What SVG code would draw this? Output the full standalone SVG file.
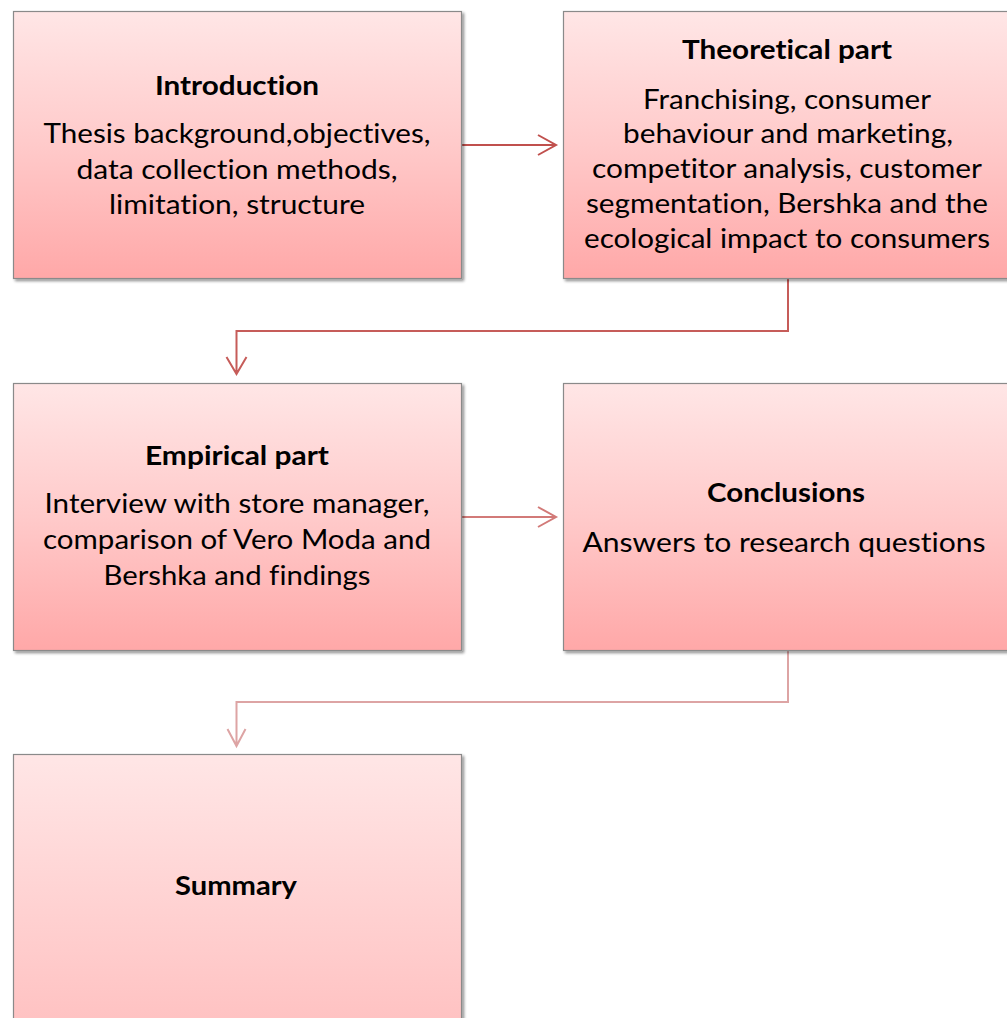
<svg xmlns="http://www.w3.org/2000/svg" width="1007" height="1018" viewBox="0 0 1007 1018">
<defs>
<linearGradient id="g" x1="0" y1="0" x2="0" y2="1">
<stop offset="0" stop-color="#FFE6E6"/>
<stop offset="0.5" stop-color="#FFCACA"/>
<stop offset="1" stop-color="#FFA8A8"/>
</linearGradient>
<linearGradient id="g2" x1="0" y1="0" x2="0" y2="1">
<stop offset="0" stop-color="#FFE6E6"/>
<stop offset="1" stop-color="#FFBEBE"/>
</linearGradient>
<filter id="sh" x="-5%" y="-5%" width="115%" height="115%">
<feGaussianBlur in="SourceAlpha" stdDeviation="1.5"/>
<feOffset dx="2" dy="2" result="b"/>
<feComponentTransfer><feFuncA type="linear" slope="0.45"/></feComponentTransfer>
<feMerge><feMergeNode/><feMergeNode in="SourceGraphic"/></feMerge>
</filter>
</defs>
<style>
.box{fill:url(#g);stroke:#8a8a8a;stroke-width:1.2;filter:url(#sh)}
.t{font-family:Lato,"Liberation Sans","DejaVu Sans",sans-serif;font-size:27px;fill:#000;text-anchor:middle;font-variant-ligatures:none}
.b{font-weight:bold}
.c{fill:none;stroke-width:2;stroke-linejoin:miter}
</style>
<rect width="1007" height="1018" fill="#ffffff"/>
<g id="connectors">
<path class="c" stroke="#C0504D" d="M461,145 H556 M538,135 L556,145 L538,155"/>
<path class="c" stroke="#C65C59" d="M788,279 V331 H236.5 V374 M226.5,357 L236.5,374 L246.5,357"/>
<path class="c" stroke="#D27A78" d="M461,517 H556 M538,507 L556,517 L538,527"/>
<path class="c" stroke="#DDA4A4" d="M788,651 V702 H236.5 V746 M227.5,729 L236.5,746 L245.5,729"/>
</g>
<g id="introduction">
<rect class="box" x="13.5" y="11.5" width="448" height="267"/>
<text class="t b" x="237" y="95" textLength="164" lengthAdjust="spacingAndGlyphs">Introduction</text>
<text class="t" x="237" y="143" textLength="387" lengthAdjust="spacingAndGlyphs">Thesis background,objectives,</text>
<text class="t" x="237" y="179" textLength="321" lengthAdjust="spacingAndGlyphs">data collection methods,</text>
<text class="t" x="237" y="214" textLength="256" lengthAdjust="spacingAndGlyphs">limitation, structure</text>
</g>
<g id="theoretical">
<rect class="box" x="563.5" y="11.5" width="448" height="267"/>
<text class="t b" x="787" y="59" textLength="210" lengthAdjust="spacingAndGlyphs">Theoretical part</text>
<text class="t" x="787" y="109" textLength="288" lengthAdjust="spacingAndGlyphs">Franchising, consumer</text>
<text class="t" x="788" y="143" textLength="330" lengthAdjust="spacingAndGlyphs">behaviour and marketing,</text>
<text class="t" x="787" y="178" textLength="390" lengthAdjust="spacingAndGlyphs">competitor analysis, customer</text>
<text class="t" x="787" y="213" textLength="402" lengthAdjust="spacingAndGlyphs">segmentation, Bershka and the</text>
<text class="t" x="787" y="248" textLength="406" lengthAdjust="spacingAndGlyphs">ecological impact to consumers</text>
</g>
<g id="empirical">
<rect class="box" x="13.5" y="383.5" width="448" height="267"/>
<text class="t b" x="237" y="465" textLength="184" lengthAdjust="spacingAndGlyphs">Empirical part</text>
<text class="t" x="237" y="513" textLength="385" lengthAdjust="spacingAndGlyphs">Interview with store manager,</text>
<text class="t" x="237" y="549" textLength="388" lengthAdjust="spacingAndGlyphs">comparison of Vero Moda and</text>
<text class="t" x="237" y="585" textLength="267" lengthAdjust="spacingAndGlyphs">Bershka and findings</text>
</g>
<g id="conclusions">
<rect class="box" x="563.5" y="383.5" width="448" height="267"/>
<text class="t b" x="786" y="502" textLength="158" lengthAdjust="spacingAndGlyphs">Conclusions</text>
<text class="t" x="784" y="552" textLength="403" lengthAdjust="spacingAndGlyphs">Answers to research questions</text>
</g>
<g id="summary">
<rect class="box" x="13.5" y="754.5" width="448" height="300" style="fill:url(#g2)"/>
<text class="t b" x="236" y="895" textLength="122" lengthAdjust="spacingAndGlyphs">Summary</text>
</g>
</svg>
